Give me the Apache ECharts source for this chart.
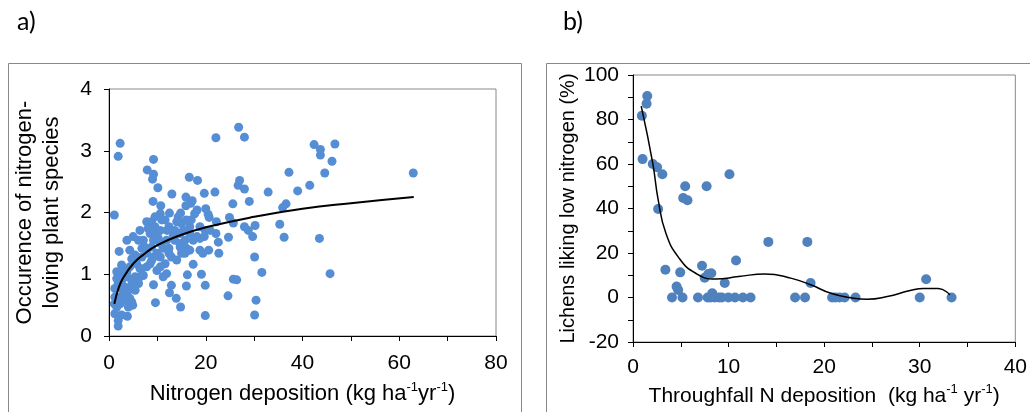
<!DOCTYPE html>
<html>
<head>
<meta charset="utf-8">
<script src="https://cdn.jsdelivr.net/npm/echarts@6/dist/echarts.min.js"></script>
<style>
  html, body { margin: 0; padding: 0; background: #fff; }
  #main { width: 1030px; height: 412px; }
</style>
</head>
<body>
<div id="main"></div>
<script>
// panel a) nitrogen deposition vs occurrence of nitrogen-loving species
var depositionA = [
  1.1, 2.3, 1.9, 2.1, 7.9, 9.2, 9.2, 9.0, 10.1, 9.1, 13.0, 16.6, 18.3, 15.9, 17.2, 19.7, 21.9, 22.1, 26.8, 28.0,
  26.7, 27.0, 28.0, 25.6, 29.0, 32.9, 37.2, 39.0, 41.5, 42.4, 43.7, 43.7, 46.7, 46.1, 44.6, 62.9, 36.6, 35.9, 35.3, 36.2,
  43.5, 45.7, 30.2, 29.7, 28.8, 28.0, 30.1, 31.6, 30.4, 30.1, 24.6, 25.7, 26.4, 24.7, 24.9, 25.7, 22.7, 22.6, 22.2, 22.1,
  19.9, 19.9, 19.1, 17.4, 16.2, 16.0, 14.8, 13.9, 12.9, 12.5, 9.6, 9.2, 18.8, 19.4, 20.6, 19.7, 20.5, 20.0, 20.7, 18.2,
  16.9, 15.9, 14.8, 12.5, 10.7, 10.6, 16.0, 16.7, 18.2, 16.7, 15.7, 14.7, 13.6, 12.4, 12.9, 11.6, 10.6, 9.9, 11.2, 11.9,
  7.8, 6.8, 7.8, 9.2, 9.9, 10.6, 6.4, 7.1, 5.0, 3.7, 7.8, 8.8, 9.5, 8.5, 9.9, 10.6, 11.6, 12.4, 13.6, 14.7,
  15.0, 14.0, 15.4, 16.7, 17.4, 18.8, 15.7, 14.7, 11.9, 10.6, 9.2, 8.8, 7.4, 6.8, 5.4, 4.3, 4.7, 5.7, 6.4, 7.1,
  5.4, 4.7, 6.1, 5.4, 4.3, 3.6, 2.9, 2.4, 3.3, 2.3, 1.6, 1.1, 1.2, 1.9, 1.9, 3.8, 2.6, 4.9, 4.3, 2.3,
  1.6, 2.6, 2.9, 1.2, 1.9, 1.6, 3.7, 2.6, 3.3, 2.9, 4.0, 5.0, 6.4, 1.2, 4.3, 3.7, 4.0, 4.7, 10.9, 12.0,
  13.3, 14.3, 8.1, 9.5, 10.2, 11.2, 14.0, 15.0, 16.0, 17.0, 17.7, 18.8, 19.9, 20.9, 12.4, 6.8, 8.5, 6.1, 8.8
];
var occurrenceA = [
  1.96, 3.12, 2.91, 1.37, 2.69, 2.86, 2.62, 2.54, 2.40, 2.18, 2.30, 2.57, 2.52, 2.25, 2.19, 2.31, 2.33, 3.21, 3.38, 3.22,
  2.44, 2.52, 2.38, 2.14, 2.18, 2.33, 2.65, 2.35, 2.44, 3.10, 3.02, 2.93, 3.11, 2.83, 2.64, 2.64, 2.14, 2.08, 1.81, 1.60,
  1.58, 1.01, 1.79, 1.61, 1.71, 1.77, 1.28, 1.03, 0.58, 0.34, 0.65, 0.92, 0.91, 1.60, 1.92, 1.83, 1.34, 1.52, 1.85, 1.66,
  0.33, 0.82, 1.00, 1.16, 0.99, 0.81, 0.47, 0.61, 0.82, 0.70, 0.54, 0.83, 1.39, 1.34, 1.39, 1.61, 1.97, 2.06, 1.92, 2.04,
  2.15, 2.11, 1.99, 1.99, 2.11, 1.98, 1.88, 1.77, 1.61, 1.39, 1.34, 1.44, 1.55, 1.34, 1.28, 1.17, 1.12, 1.06, 0.96, 1.01,
  1.12, 1.09, 1.34, 1.28, 1.34, 1.28, 1.71, 1.55, 1.61, 1.55, 1.85, 1.85, 1.77, 1.66, 1.66, 1.71, 1.88, 1.77, 1.71, 1.66,
  1.82, 1.85, 1.71, 1.66, 1.55, 1.58, 1.55, 1.50, 1.55, 1.50, 1.55, 1.44, 1.44, 1.42, 1.31, 1.39, 1.25, 1.17, 1.09, 0.98,
  0.96, 0.90, 0.85, 0.74, 0.79, 0.69, 0.74, 0.63, 0.58, 0.52, 0.47, 0.52, 0.36, 0.25, 0.16, 0.32, 0.34, 0.50, 0.61, 1.01,
  1.04, 1.15, 1.09, 0.77, 0.85, 0.93, 0.96, 0.88, 0.79, 0.66, 0.74, 0.82, 0.96, 0.63, 1.12, 1.04, 0.47, 0.55, 1.88, 1.71,
  1.63, 1.93, 1.74, 1.93, 1.58, 1.42, 1.23, 1.34, 1.42, 1.88, 1.98, 1.77, 1.71, 1.71, 1.42, 1.28, 1.17, 1.55, 1.22
];
var trendAx = [1.1, 2, 3, 5, 7, 10, 15, 20, 30, 40, 50, 63];
var trendAy = [0.52, 0.78, 0.95, 1.17, 1.31, 1.47, 1.64, 1.76, 1.93, 2.06, 2.15, 2.25];

// panel b) throughfall N deposition vs lichens liking low nitrogen
var depositionB = [
  0.93, 1.0, 1.42, 1.49, 2.07, 2.52, 3.07, 2.63, 3.39, 4.08, 4.94, 4.56, 4.73, 5.18, 5.46, 5.25, 5.70, 6.80,
  7.22, 7.50, 7.70, 7.88, 8.19, 7.81, 8.29, 8.53, 8.98, 9.29, 9.60, 9.98, 10.09, 10.67, 10.78, 11.5, 12.3,
  14.16, 16.96, 18.0, 18.24, 18.58, 20.83, 21.17, 21.6, 22.14, 23.28, 30.0, 30.67, 33.33, 8.1
];
var lichensB = [
  81.7, 62.2, 87.1, 90.6, 60.0, 58.5, 55.4, 39.8, 12.5, 0, 11.3, 4.9, 3.4, 0, 50, 44.7, 43.7, 0,
  14.3, 8.9, 50, 10.6, 10.9, 0, 1.9, 0, 0, 0, 6.5, 0, 55.4, 0, 16.6, 0, 0,
  25, 0, 0, 25, 6.5, 0, 0, 0, 0, 0, 0, 8.2, 0, 0
];
var trendBx = [0.86, 2.07, 2.63, 3.45, 4.84, 6.56, 8.64, 11.05, 13.8, 16.6, 18.65, 20.7, 22.8, 24.5, 26.6, 29.0, 30.4, 31.95, 33.16];
var trendBy = [86, 60.3, 44, 28.8, 17.6, 10.9, 8.3, 9.4, 10.6, 8.6, 5.6, 1.9, -0.1, -0.8, 0.4, 3.1, 4.1, 4.1, 1.1];

function pairs(xs, ys) {
  var out = [];
  for (var i = 0; i < xs.length; i++) out.push([xs[i], ys[i]]);
  return out;
}

var FONT = '"Liberation Sans", Arial, sans-serif';
var chart = echarts.init(document.getElementById('main'), null, { renderer: 'canvas' });

var axisLine = { onZero: false, lineStyle: { color: '#000', width: 1 } };
var axisTick = { show: true, inside: false, length: 5, lineStyle: { color: '#000' } };
var minorTick = { show: true, splitNumber: 2, length: 5, lineStyle: { color: '#000' } };
function tickLabels(margin) {
  return { color: '#000', fontSize: 21, fontFamily: FONT, margin: margin };
}
function richName(size) {
  return {
    rich: {
      n: { fontSize: size, fontFamily: FONT, color: '#000', lineHeight: 26 },
      s: { fontSize: 13, fontFamily: FONT, color: '#000', lineHeight: 26, verticalAlign: 'top' }
    }
  };
}

var option = {
  backgroundColor: '#fff',
  animation: false,
  graphic: [
    { type: 'rect', shape: { x: 8.5, y: 63.5, width: 513, height: 400 }, style: { fill: 'none', stroke: '#888', lineWidth: 1 } },
    { type: 'rect', shape: { x: 546.5, y: 63.5, width: 520, height: 400 }, style: { fill: 'none', stroke: '#888', lineWidth: 1 } },
    { type: 'text', left: 17, top: 9, style: { text: 'a)', fontSize: 25, fontFamily: 'Lato, sans-serif', fill: '#000' } },
    { type: 'text', left: 563, top: 9, style: { text: 'b)', fontSize: 25, fontFamily: 'Lato, sans-serif', fill: '#000' } }
  ],
  grid: [
    { left: 109, top: 89, width: 387, height: 247, show: true, borderColor: '#888', borderWidth: 1 },
    { left: 633, top: 75, width: 386, height: 267, show: true, borderColor: '#888', borderWidth: 1 }
  ],
  xAxis: [
    {
      gridIndex: 0, type: 'value', min: 0, max: 80, interval: 20,
      splitLine: { show: false }, axisLine: axisLine, axisTick: axisTick, minorTick: minorTick,
      axisLabel: tickLabels(17),
      name: '{n|Nitrogen deposition (kg ha}{s|-1}{n|yr}{s|-1}{n|)}',
      nameLocation: 'middle', nameGap: 45,
      nameTextStyle: richName(22)
    },
    {
      gridIndex: 1, type: 'value', min: 0, max: 40, interval: 10,
      splitLine: { show: false }, axisLine: axisLine, axisTick: axisTick, minorTick: minorTick,
      axisLabel: tickLabels(15),
      name: '{n|Throughfall N deposition  (kg ha}{s|-1}{n| yr}{s|-1}{n|)}',
      nameLocation: 'middle', nameGap: 40,
      nameTextStyle: richName(21)
    }
  ],
  yAxis: [
    {
      gridIndex: 0, type: 'value', min: 0, max: 4, interval: 1,
      splitLine: { show: false }, axisLine: axisLine, axisTick: axisTick,
      axisLabel: tickLabels(17),
      name: 'Occurence of nitrogen-\nloving plant species',
      nameLocation: 'middle', nameRotate: 90, nameGap: 44,
      nameTextStyle: { fontSize: 22, fontFamily: FONT, color: '#000', lineHeight: 27 }
    },
    {
      gridIndex: 1, type: 'value', min: -20, max: 100, interval: 20,
      splitLine: { show: false }, axisLine: axisLine, axisTick: axisTick, minorTick: minorTick,
      axisLabel: tickLabels(14),
      name: 'Lichens liking low nitrogen (%)',
      nameLocation: 'middle', nameRotate: 90, nameGap: 55,
      nameTextStyle: { fontSize: 20, fontFamily: FONT, color: '#000' }
    }
  ],
  series: [
    {
      type: 'scatter', xAxisIndex: 0, yAxisIndex: 0, symbolSize: 9,
      itemStyle: { color: '#558ED5', opacity: 1 },
      data: pairs(depositionA, occurrenceA)
    },
    {
      type: 'line', xAxisIndex: 0, yAxisIndex: 0, smooth: true, showSymbol: false,
      lineStyle: { color: '#000', width: 2 },
      data: pairs(trendAx, trendAy)
    },
    {
      type: 'scatter', xAxisIndex: 1, yAxisIndex: 1, symbolSize: 10,
      itemStyle: { color: '#4F81BD', opacity: 1 },
      data: pairs(depositionB, lichensB)
    },
    {
      type: 'line', xAxisIndex: 1, yAxisIndex: 1, smooth: true, showSymbol: false,
      lineStyle: { color: '#000', width: 1.5 },
      data: pairs(trendBx, trendBy)
    }
  ]
};

chart.setOption(option);
</script>
</body>
</html>
